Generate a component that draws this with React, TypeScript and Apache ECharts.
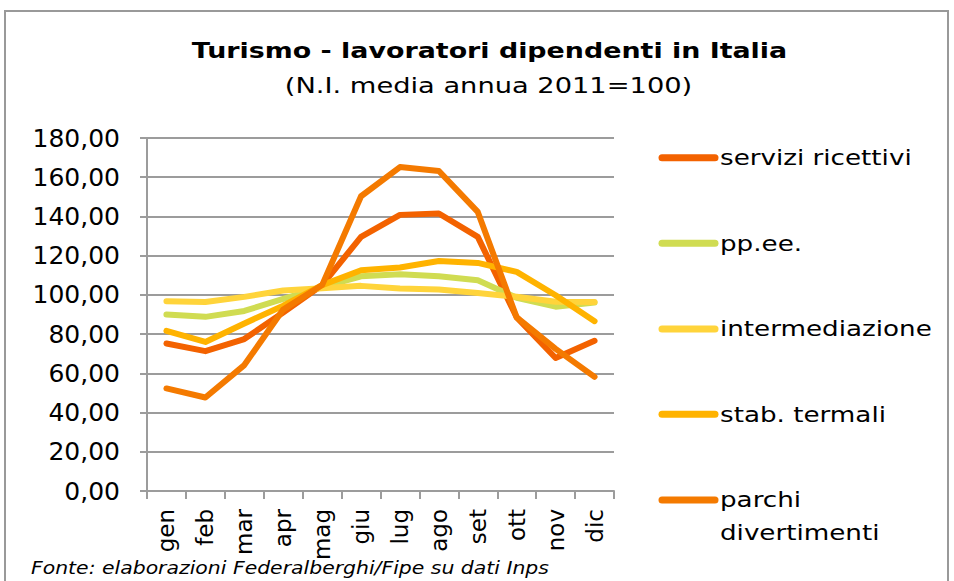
import React, { useEffect, useRef } from "react";
import * as echarts from "echarts";

const months = ["gen", "feb", "mar", "apr", "mag", "giu", "lug", "ago", "set", "ott", "nov", "dic"];
const seriesNames = ["servizi ricettivi", "pp.ee.", "intermediazione", "stab. termali", "parchi divertimenti"];
const legendLabels = ["servizi ricettivi", "pp.ee.", "intermediazione", "stab. termali", "parchi\ndivertimenti"];
const seriesColors = ["#F36200", "#D0DC52", "#FFD43B", "#FFB300", "#F47A00"];

const servizi = [75.2, 71.3, 77.5, 91, 105, 129.6, 140.8, 141.5, 129.6, 88.5, 67.8, 76.6];
const ppee = [90, 88.8, 91.8, 98, 104, 109.5, 110.5, 109.5, 107.5, 98.5, 94, 96.1];
const intermediazione = [96.8, 96.4, 99, 102.2, 103.4, 104.6, 103.2, 102.7, 101, 99, 96.5, 96.4];
const termali = [81.7, 76, 85.4, 94.5, 105, 112.6, 114, 117.3, 116.3, 111.7, 99.8, 86.6];
const parchi = [52.3, 47.7, 64.2, 92.5, 105, 150.3, 165.2, 163.2, 142.3, 88.5, 72.5, 58.2];

const yTicks = { min: 0, max: 180, interval: 20 };

const titleText = "Turismo - lavoratori dipendenti in Italia";
const subtitleText = "(N.I. media annua 2011=100)";
const sourceText = "Fonte: elaborazioni Federalberghi/Fipe su dati Inps";

const FONT = "DejaVu Sans";

export default function App() {
  const ref = useRef<HTMLDivElement>(null);
  useEffect(() => {
    if (!ref.current) return;
    const chart = echarts.init(ref.current, null, { renderer: "svg" });
    const data = [servizi, ppee, intermediazione, termali, parchi];
    const legendY = [157.7, 243.3, 329, 414.3, 500];

    const legendGraphics: any[] = [];
    legendLabels.forEach((lab, i) => {
      legendGraphics.push({
        type: "line",
        shape: { x1: 662, y1: legendY[i], x2: 715, y2: legendY[i] },
        style: { stroke: seriesColors[i], lineWidth: 7, lineCap: "round" },
      });
      const multi = lab.indexOf("\n") >= 0;
      legendGraphics.push({
        type: "text",
        x: 720,
        y: multi ? legendY[i] - 16.5 : legendY[i],
        scaleX: 1.19,
        style: {
          text: lab,
          font: `22px "${FONT}"`,
          fill: "#000",
          align: "left",
          verticalAlign: multi ? "top" : "middle",
          lineHeight: 33,
        },
      });
    });

    chart.setOption({
      animation: false,
      backgroundColor: "#fff",
      grid: { left: 147, top: 138, width: 467, height: 353, containLabel: false },
      xAxis: {
        type: "category",
        data: months,
        boundaryGap: true,
        axisLine: { show: true, lineStyle: { color: "#9C9C9C", width: 2 } },
        axisTick: { show: true, interval: 0, length: 8, lineStyle: { color: "#9C9C9C", width: 2 } },
        axisLabel: {
          interval: 0,
          rotate: 90,
          margin: 18,
          color: "#000",
          fontFamily: FONT,
          fontSize: 23,
        },
        splitLine: { show: false },
      },
      yAxis: {
        type: "value",
        min: yTicks.min,
        max: yTicks.max,
        interval: yTicks.interval,
        axisLine: { show: true, lineStyle: { color: "#9C9C9C", width: 2 } },
        axisTick: { show: true, length: 7, lineStyle: { color: "#9C9C9C", width: 2 } },
        axisLabel: {
          margin: 27,
          color: "#000",
          fontFamily: FONT,
          fontSize: 25,
          formatter: (v: number) => v.toFixed(2).replace(".", ","),
        },
        splitLine: { show: true, lineStyle: { color: "#9C9C9C", width: 2 } },
      },
      series: seriesNames.map((name, i) => ({
        name,
        type: "line",
        data: data[i],
        symbol: "none",
        lineStyle: { color: seriesColors[i], width: 6, cap: "round", join: "round" },
        itemStyle: { color: seriesColors[i] },
      })),
      graphic: [
        {
          type: "rect",
          shape: { x: 5, y: 11, width: 943, height: 620 },
          style: { fill: "none", stroke: "#999", lineWidth: 2 },
          silent: true,
        },
        {
          type: "text",
          x: 489.5,
          y: 51,
          scaleX: 1.28,
          style: {
            text: titleText,
            font: `bold 21px "${FONT}"`,
            fill: "#000",
            align: "center",
            verticalAlign: "middle",
          },
        },
        {
          type: "text",
          x: 488.5,
          y: 85,
          scaleX: 1.24,
          style: {
            text: subtitleText,
            font: `22px "${FONT}"`,
            fill: "#000",
            align: "center",
            verticalAlign: "middle",
          },
        },
        {
          type: "text",
          x: 31,
          y: 568,
          scaleX: 1.2,
          style: {
            text: sourceText,
            font: `italic 17px "${FONT}"`,
            fill: "#000",
            align: "left",
            verticalAlign: "middle",
          },
        },
        ...legendGraphics,
      ],
    });
    return () => chart.dispose();
  }, []);
  return (
    <div
      ref={ref}
      style={{ position: "absolute", left: 0, top: 0, width: 954, height: 581, background: "#fff" }}
    />
  );
}
